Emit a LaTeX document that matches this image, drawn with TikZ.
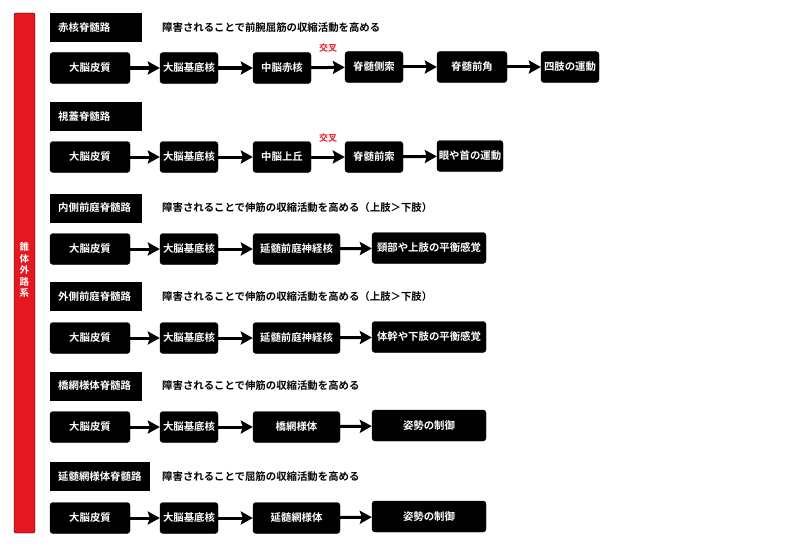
\documentclass[tikz,border=0pt]{standalone}
\usepackage{fontspec}
\setmainfont{Noto Sans CJK JP}[BoldFont={Noto Sans CJK JP Bold}]
\usetikzlibrary{arrows.meta}
\definecolor{barred}{RGB}{228,24,32}

\begin{document}
\begin{tikzpicture}[x=1pt,y=-1pt,
    box/.style={fill=black,draw=black,rounded corners=3pt,text=white,inner sep=0pt,
        minimum height=31pt,font=\bfseries\fontsize{10.4}{12}\selectfont},
    title/.style={fill=black,text=white,anchor=west,align=left,inner xsep=8pt,
        inner ysep=0pt,minimum height=29pt,font=\bfseries\fontsize{10.4}{12}\selectfont},
    note/.style={anchor=west,inner sep=0pt,font=\bfseries\fontsize{10.4}{12}\selectfont},
    cross/.style={text=barred,inner sep=0pt,font=\bfseries\fontsize{9}{10}\selectfont},
    arr/.style={-{Stealth[length=12pt,width=13pt,inset=2pt]},line width=3pt}]
    \useasboundingbox (0,0) rectangle (800,551);
    % red side bar
    \filldraw[fill=barred,draw=black,rounded corners=2pt] (14,13) rectangle (35,533);
    \node[text=white,align=center,inner sep=0pt,font=\bfseries\fontsize{9.5}{11.5}\selectfont]
        (side) at (24.5,270) {錐\\体\\外\\路\\系};
    % 赤核脊髄路
    \node[title,text width=76pt] (t1) at (50,27.5) {赤核脊髄路};
    \node[note] (n1) at (162,28) {障害されることで前腕屈筋の収縮活動を高める};
    \node[box,minimum width=80] (a1) at (90,68) {大脳皮質};
    \node[box,minimum width=58] (b1) at (189,68) {大脳基底核};
    \node[box,minimum width=58] (c1) at (282,68) {中脳赤核};
    \node[box,minimum width=58] (d1) at (374,67) {脊髄側索};
    \node[box,minimum width=70] (e1) at (472,67) {脊髄前角};
    \node[box,minimum width=58] (f1) at (570,67) {四肢の運動};
    \draw[arr] (a1) -- (b1);
    \draw[arr] (b1) -- (c1);
    \draw[arr] (c1) -- (d1);
    \draw[arr] (d1) -- (e1);
    \draw[arr] (e1) -- (f1);
    \node[cross] (x1) at (328,48.5) {交叉};
    % 視蓋脊髄路
    \node[title,text width=76pt] (t2) at (50,116.5) {視蓋脊髄路};
    \node[box,minimum width=80] (a2) at (90,157) {大脳皮質};
    \node[box,minimum width=58] (b2) at (189,157) {大脳基底核};
    \node[box,minimum width=58] (c2) at (282,157) {中脳上丘};
    \node[box,minimum width=58] (d2) at (374,157) {脊髄前索};
    \node[box,minimum width=66] (e2) at (470,156) {眼や首の運動};
    \draw[arr] (a2) -- (b2);
    \draw[arr] (b2) -- (c2);
    \draw[arr] (c2) -- (d2);
    \draw[arr] (d2) -- (e2);
    \node[cross] (x2) at (328,138) {交叉};
    % 内側前庭脊髄路
    \node[title,text width=76pt] (t3) at (50,208) {内側前庭脊髄路};
    \node[note] (n3) at (162,208) {障害されることで伸筋の収縮活動を高める（上肢＞下肢）};
    \node[box,minimum width=80] (a3) at (90,249) {大脳皮質};
    \node[box,minimum width=58] (b3) at (189,249) {大脳基底核};
    \node[box,minimum width=87] (c3) at (296.5,249) {延髄前庭神経核};
    \node[box,minimum width=114] (d3) at (429,248) {頸部や上肢の平衡感覚};
    \draw[arr] (a3) -- (b3);
    \draw[arr] (b3) -- (c3);
    \draw[arr] (c3) -- (d3);
    % 外側前庭脊髄路
    \node[title,text width=76pt] (t4) at (50,296.5) {外側前庭脊髄路};
    \node[note] (n4) at (162,297) {障害されることで伸筋の収縮活動を高める（上肢＞下肢）};
    \node[box,minimum width=80] (a4) at (90,338) {大脳皮質};
    \node[box,minimum width=58] (b4) at (189,338) {大脳基底核};
    \node[box,minimum width=87] (c4) at (296.5,338) {延髄前庭神経核};
    \node[box,minimum width=114] (d4) at (429,337) {体幹や下肢の平衡感覚};
    \draw[arr] (a4) -- (b4);
    \draw[arr] (b4) -- (c4);
    \draw[arr] (c4) -- (d4);
    % 橋網様体脊髄路
    \node[title,text width=76pt] (t5) at (50,386) {橋網様体脊髄路};
    \node[note] (n5) at (162,386) {障害されることで伸筋の収縮活動を高める};
    \node[box,minimum width=80] (a5) at (90,427) {大脳皮質};
    \node[box,minimum width=58] (b5) at (189,427) {大脳基底核};
    \node[box,minimum width=87] (c5) at (296.5,427) {橋網様体};
    \node[box,minimum width=114] (d5) at (429,425.5) {姿勢の制御};
    \draw[arr] (a5) -- (b5);
    \draw[arr] (b5) -- (c5);
    \draw[arr] (c5) -- (d5);
    % 延髄網様体脊髄路
    \node[title,text width=84pt] (t6) at (50,476.5) {延髄網様体脊髄路};
    \node[note] (n6) at (162,477) {障害されることで屈筋の収縮活動を高める};
    \node[box,minimum width=80] (a6) at (90,518) {大脳皮質};
    \node[box,minimum width=58] (b6) at (189,518) {大脳基底核};
    \node[box,minimum width=87] (c6) at (296.5,518) {延髄網様体};
    \node[box,minimum width=114] (d6) at (429,516.5) {姿勢の制御};
    \draw[arr] (a6) -- (b6);
    \draw[arr] (b6) -- (c6);
    \draw[arr] (c6) -- (d6);
\end{tikzpicture}
\end{document}
